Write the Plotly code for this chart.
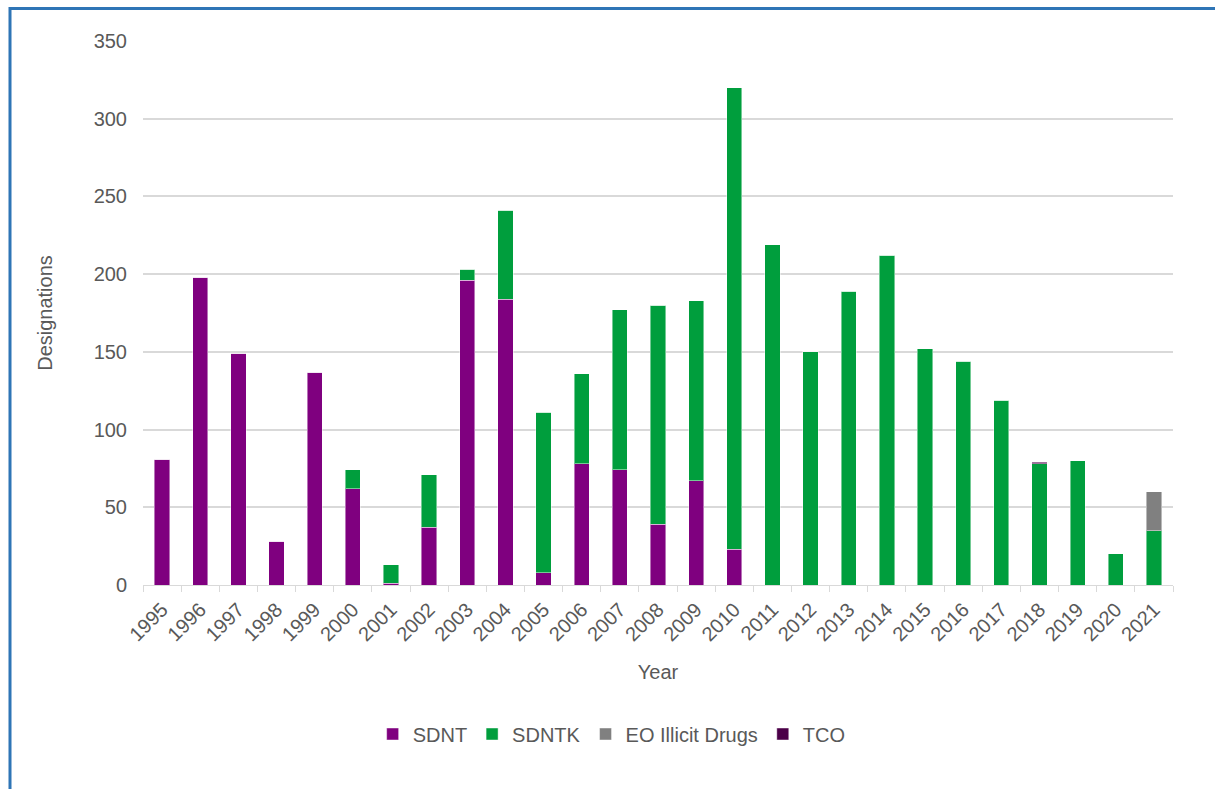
import plotly.graph_objects as go

years = [str(y) for y in range(1995, 2022)]
sdnt = [81, 198, 149, 28, 137, 62, 1, 37, 196, 184, 8, 78, 74, 39, 67, 23,
        0, 0, 0, 0, 0, 0, 0, 0, 0, 0, 0]
sdntk = [0, 0, 0, 0, 0, 12, 12, 34, 7, 57, 103, 58, 103, 141, 116, 297,
         219, 150, 189, 212, 152, 144, 119, 78, 80, 20, 35]
eo_illicit = [0]*26 + [25]
tco = [0]*23 + [1] + [0]*3

series = [
    ("SDNT", sdnt, "#7F007F"),
    ("SDNTK", sdntk, "#009E3D"),
    ("EO Illicit Drugs", eo_illicit, "#808080"),
    ("TCO", tco, "#4B0048"),
]

fig = go.Figure()
for name, vals, col in series:
    fig.add_trace(go.Bar(
        x=years, y=vals, name=name,
        marker=dict(color=col, line=dict(color="rgba(255,255,255,0.45)", width=1)),
    ))

font = dict(family="Liberation Sans, Arial, sans-serif", size=20, color="#595959")

L, R, T, B = 143, 42, 41, 204
W, H = 1215, 789
pw, ph = W - L - R, H - T - B

fig.update_layout(
    barmode="stack",
    bargap=0.6,
    width=W, height=H,
    margin=dict(l=L, r=R, t=T, b=B),
    paper_bgcolor="white", plot_bgcolor="white",
    font=font,
    showlegend=True,
    legend=dict(orientation="h", x=0.455, xanchor="center", y=(585 - 734) / ph,
                yanchor="middle", font=font, traceorder="normal",
                itemwidth=30),
    xaxis=dict(
        type="category", tickangle=-45, tickfont=font,
        showgrid=False, showline=True, linecolor="#d9d9d9", linewidth=1,
        ticks="outside", tickson="boundaries", ticklen=6, tickcolor="#d9d9d9",
        ticklabelstandoff=4,
        title=dict(text="Year", font=font, standoff=20),
    ),
    yaxis=dict(
        range=[0, 350], dtick=50, tickfont=font,
        showgrid=True, gridcolor="#d9d9d9", gridwidth=1.5,
        zeroline=False, showline=False, ticks="",
        ticklabelstandoff=15,
        title=dict(text="Designations", font=font, standoff=35),
    ),
    shapes=[dict(
        type="rect", xref="paper", yref="paper",
        x0=(10 - L) / pw, x1=(W + 20 - L) / pw,
        y0=(585 - (H + 20)) / ph, y1=1 + (T - 8.5) / ph,
        line=dict(color="#2E75B6", width=3), fillcolor="rgba(0,0,0,0)", layer="below",
    )],
)

fig.write_html("out.html")
